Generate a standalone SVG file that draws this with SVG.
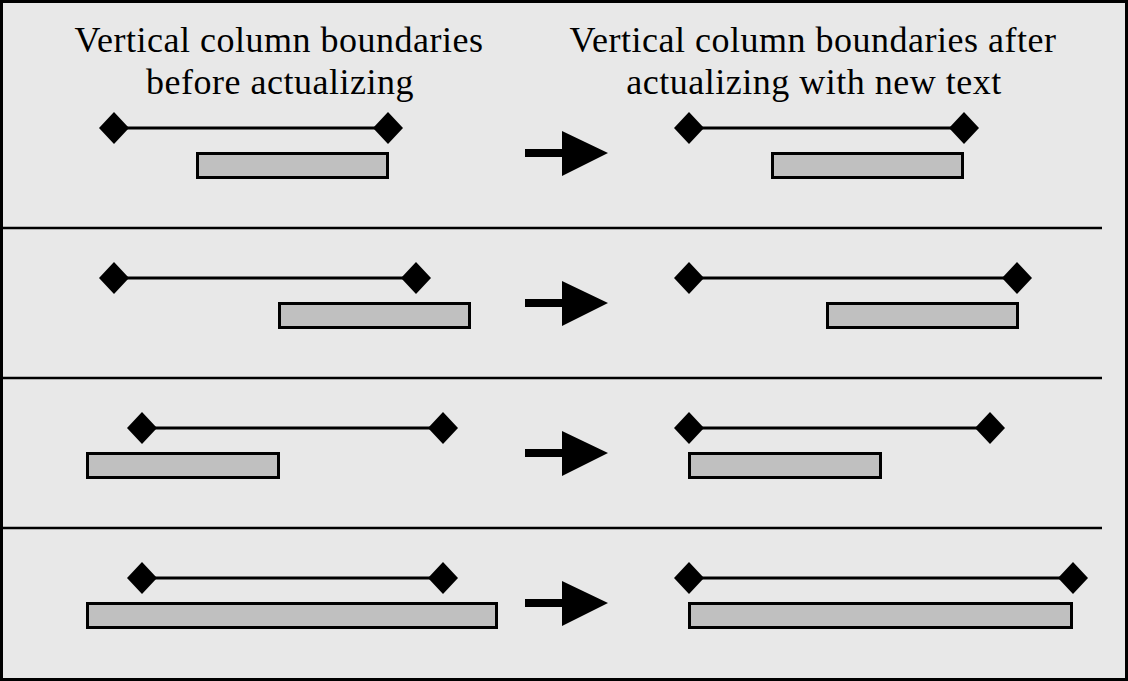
<svg xmlns="http://www.w3.org/2000/svg" width="1128" height="681" viewBox="0 0 1128 681">
<defs>
<style>
.t{font-family:"Liberation Serif","Times New Roman",serif;font-size:36px;letter-spacing:0.5px;fill:#000;text-anchor:middle}
.ln{stroke:#000;stroke-width:3;fill:none}
.bar{fill:#c0c0c0;stroke:#000;stroke-width:3}
.dm{fill:#000}
.sep{stroke:#000;stroke-width:2.5}
</style>
<path id="d" d="M-15,0 L0,-16 L15,0 L0,16 Z"/>
<path id="ar" d="M525,149 H562 V131 L608,153 L562,176 V157 H525 Z"/>
</defs>
<rect x="1.5" y="1.5" width="1125" height="678" fill="#e8e8e8" stroke="#000" stroke-width="3"/>
<g id="labels">
<text class="t" x="279" y="52">Vertical column boundaries</text>
<text class="t" x="280" y="94">before actualizing</text>
<text class="t" x="813" y="52">Vertical column boundaries after</text>
<text class="t" x="814" y="94">actualizing with new text</text>
</g>
<g id="separators">
<line class="sep" x1="3" y1="228" x2="1102" y2="228"/>
<line class="sep" x1="3" y1="378" x2="1102" y2="378"/>
<line class="sep" x1="3" y1="528" x2="1102" y2="528"/>
</g>
<g id="row1">
<line class="ln" x1="114" y1="128" x2="388" y2="128"/>
<use href="#d" x="114" y="128" class="dm"/><use href="#d" x="388" y="128" class="dm"/>
<rect class="bar" x="197.5" y="153.5" width="190" height="24"/>
<line class="ln" x1="689" y1="128" x2="964" y2="128"/>
<use href="#d" x="689" y="128" class="dm"/><use href="#d" x="964" y="128" class="dm"/>
<rect class="bar" x="772.5" y="153.5" width="190" height="24"/>
</g>
<g id="row2">
<line class="ln" x1="114" y1="278" x2="416" y2="278"/>
<use href="#d" x="114" y="278" class="dm"/><use href="#d" x="416" y="278" class="dm"/>
<rect class="bar" x="279.5" y="303.5" width="190" height="24"/>
<line class="ln" x1="689" y1="278" x2="1017" y2="278"/>
<use href="#d" x="689" y="278" class="dm"/><use href="#d" x="1017" y="278" class="dm"/>
<rect class="bar" x="827.5" y="303.5" width="190" height="24"/>
</g>
<g id="row3">
<line class="ln" x1="142" y1="428" x2="443" y2="428"/>
<use href="#d" x="142" y="428" class="dm"/><use href="#d" x="443" y="428" class="dm"/>
<rect class="bar" x="87.5" y="453.5" width="191" height="24"/>
<line class="ln" x1="689" y1="428" x2="990" y2="428"/>
<use href="#d" x="689" y="428" class="dm"/><use href="#d" x="990" y="428" class="dm"/>
<rect class="bar" x="689.5" y="453.5" width="191" height="24"/>
</g>
<g id="row4">
<line class="ln" x1="142" y1="578" x2="443" y2="578"/>
<use href="#d" x="142" y="578" class="dm"/><use href="#d" x="443" y="578" class="dm"/>
<rect class="bar" x="87.5" y="603.5" width="409" height="24"/>
<line class="ln" x1="689" y1="578" x2="1073" y2="578"/>
<use href="#d" x="689" y="578" class="dm"/><use href="#d" x="1073" y="578" class="dm"/>
<rect class="bar" x="689.5" y="603.5" width="382" height="24"/>
</g>
<g id="connectors">
<use href="#ar"/>
<use href="#ar" y="150"/>
<use href="#ar" y="300"/>
<use href="#ar" y="450"/>
</g>
</svg>
